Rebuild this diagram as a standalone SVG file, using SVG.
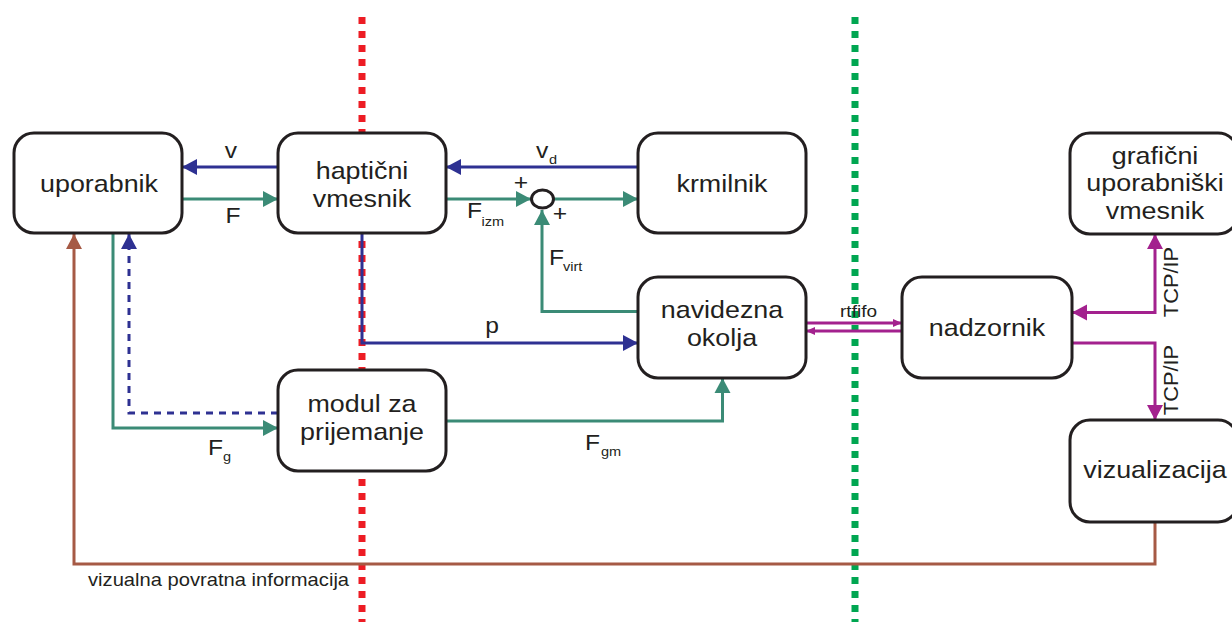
<svg xmlns="http://www.w3.org/2000/svg" width="1232" height="625" viewBox="0 0 1232 625">
<style>
.box{fill:#fff;stroke:#231f20;stroke-width:3}
.t{font-family:"Liberation Sans",Arial,sans-serif;fill:#231f20}
.bl{font-size:24px;text-anchor:middle}
.el{font-size:22px}
.sub{font-size:13px}
.c{fill:none;stroke-width:3}
.blue{stroke:#2e3192}
.green{stroke:#3b8b76}
.mag{stroke:#a3218e}
.brown{stroke:#a65a45}
</style>
<defs>
<marker id="aB" markerUnits="userSpaceOnUse" markerWidth="16" markerHeight="17" refX="15" refY="8" orient="auto" overflow="visible"><path d="M0,0 L15,8 L0,16 z" fill="#2e3192"/></marker>
<marker id="aG" markerUnits="userSpaceOnUse" markerWidth="16" markerHeight="17" refX="15" refY="8" orient="auto" overflow="visible"><path d="M0,0 L15,8 L0,16 z" fill="#3b8b76"/></marker>
<marker id="aM" markerUnits="userSpaceOnUse" markerWidth="16" markerHeight="17" refX="15" refY="8" orient="auto-start-reverse" overflow="visible"><path d="M0,0 L15,8 L0,16 z" fill="#a3218e"/></marker>
<marker id="aMs" markerUnits="userSpaceOnUse" markerWidth="10" markerHeight="9" refX="9" refY="4" orient="auto" overflow="visible"><path d="M0,0 L9,4 L0,8 z" fill="#a3218e"/></marker>
<marker id="aBr" markerUnits="userSpaceOnUse" markerWidth="16" markerHeight="17" refX="15" refY="8" orient="auto" overflow="visible"><path d="M0,0 L15,8 L0,16 z" fill="#a65a45"/></marker>
</defs>

<g id="separators">
<line x1="362" y1="17" x2="362" y2="622" stroke="#ed1c24" stroke-width="7" stroke-dasharray="7 7"/>
<line x1="855" y1="17" x2="855" y2="622" stroke="#00a651" stroke-width="7" stroke-dasharray="7 7"/>
</g>

<g id="connectors">
<path class="c blue" d="M278,167 L182,167" marker-end="url(#aB)"/>
<path class="c green" d="M182,199 L278,199" marker-end="url(#aG)"/>
<path class="c blue" d="M638,167 L446,167" marker-end="url(#aB)"/>
<path class="c green" d="M446,199 L531,199" marker-end="url(#aG)"/>
<path class="c green" d="M554,199 L638,199" marker-end="url(#aG)"/>
<path class="c green" d="M638,311.5 L542,311.5 L542,210" marker-end="url(#aG)"/>
<path class="c blue" d="M362,233 L362,343 L638,343" marker-end="url(#aB)"/>
<path class="c green" d="M446,421 L722.5,421 L722.5,378" marker-end="url(#aG)"/>
<path class="c green" d="M113,233 L113,428 L278,428" marker-end="url(#aG)"/>
<path class="c blue" d="M278,413 L129,413 L129,234" stroke-dasharray="7 6" marker-end="url(#aB)"/>
<path class="c mag" stroke-width="2.5" d="M806,323 L902,323" marker-end="url(#aMs)"/>
<path class="c mag" stroke-width="2.5" d="M902,331 L806,331" marker-end="url(#aMs)"/>
<path class="c mag" d="M1072,312.5 L1155,312.5 L1155,234" marker-start="url(#aM)" marker-end="url(#aM)"/>
<path class="c mag" d="M1072,343 L1155,343 L1155,420" marker-end="url(#aM)"/>
<path class="c brown" d="M1155,522 L1155,564 L74,564 L74,234" marker-end="url(#aBr)"/>
<text class="t el" transform="translate(231 158) scale(1.12 1)" text-anchor="middle">v</text>
<text class="t el" transform="translate(233 223) scale(1.12 1)" text-anchor="middle">F</text>
<text class="t el" transform="translate(536 158) scale(1.12 1)">v</text>
<text class="t sub" transform="translate(549 164) scale(1.12 1)">d</text>
<text class="t el" transform="translate(467 218) scale(1.12 1)">F</text>
<text class="t sub" transform="translate(481.5 226) scale(1.12 1)">izm</text>
<text class="t el" transform="translate(549 265) scale(1.12 1)">F</text>
<text class="t sub" transform="translate(563 271) scale(1.12 1)">virt</text>
<text class="t el" transform="translate(521 189.5) scale(1.12 1)" text-anchor="middle">+</text>
<text class="t el" transform="translate(560 220.5) scale(1.12 1)" text-anchor="middle">+</text>
<text class="t el" transform="translate(492 333) scale(1.12 1)" text-anchor="middle">p</text>
<text class="t el" transform="translate(208 455) scale(1.12 1)">F</text>
<text class="t sub" transform="translate(223 461) scale(1.12 1)">g</text>
<text class="t el" transform="translate(585 450) scale(1.12 1)">F</text>
<text class="t sub" transform="translate(601 456) scale(1.12 1)">gm</text>
<text class="t" font-size="17" transform="translate(858.5 317) scale(1.12 1)" text-anchor="middle">rtfifo</text>
<text class="t" font-size="19.5" transform="translate(1178 282) rotate(-90) scale(1.12 1)" text-anchor="middle">TCP/IP</text>
<text class="t" font-size="19.5" transform="translate(1178 380) rotate(-90) scale(1.12 1)" text-anchor="middle">TCP/IP</text>
<text class="t" font-size="18" transform="translate(88 585.5) scale(1.12 1)">vizualna povratna informacija</text>
</g>

<g id="sum">
<ellipse cx="542.5" cy="199" rx="11" ry="9" fill="#fff" stroke="#231f20" stroke-width="3"/>
</g>

<g id="uporabnik">
<rect class="box" x="14" y="133" width="168" height="100" rx="20"/>
<text class="t bl" transform="translate(99 192) scale(1.12 1)">uporabnik</text>
</g>
<g id="hapticni">
<rect class="box" x="278" y="133" width="168" height="100" rx="20"/>
<text class="t bl" transform="translate(362 179) scale(1.12 1)"><tspan x="0" y="0">haptični</tspan><tspan x="0" y="28">vmesnik</tspan></text>
</g>
<g id="krmilnik">
<rect class="box" x="638" y="133" width="168" height="100" rx="20"/>
<text class="t bl" transform="translate(722 192) scale(1.12 1)">krmilnik</text>
</g>
<g id="navidezna">
<rect class="box" x="638" y="277" width="168" height="101" rx="20"/>
<text class="t bl" transform="translate(722 318) scale(1.12 1)"><tspan x="0" y="0">navidezna</tspan><tspan x="0" y="28">okolja</tspan></text>
</g>
<g id="modul">
<rect class="box" x="278" y="370" width="168" height="101" rx="20"/>
<text class="t bl" transform="translate(362 412) scale(1.12 1)"><tspan x="0" y="0">modul za</tspan><tspan x="0" y="28">prijemanje</tspan></text>
</g>
<g id="nadzornik">
<rect class="box" x="902" y="277" width="170" height="101" rx="20"/>
<text class="t bl" transform="translate(987 336) scale(1.12 1)">nadzornik</text>
</g>
<g id="graficni">
<rect class="box" x="1070" y="133" width="168" height="101" rx="20"/>
<text class="t bl" transform="translate(1155 163.5) scale(1.12 1)"><tspan x="0" y="0">grafični</tspan><tspan x="0" y="28">uporabniški</tspan><tspan x="0" y="56">vmesnik</tspan></text>
</g>
<g id="vizualizacija">
<rect class="box" x="1070" y="420" width="168" height="102" rx="20"/>
<text class="t bl" transform="translate(1155 478) scale(1.12 1)">vizualizacija</text>
</g>
</svg>
